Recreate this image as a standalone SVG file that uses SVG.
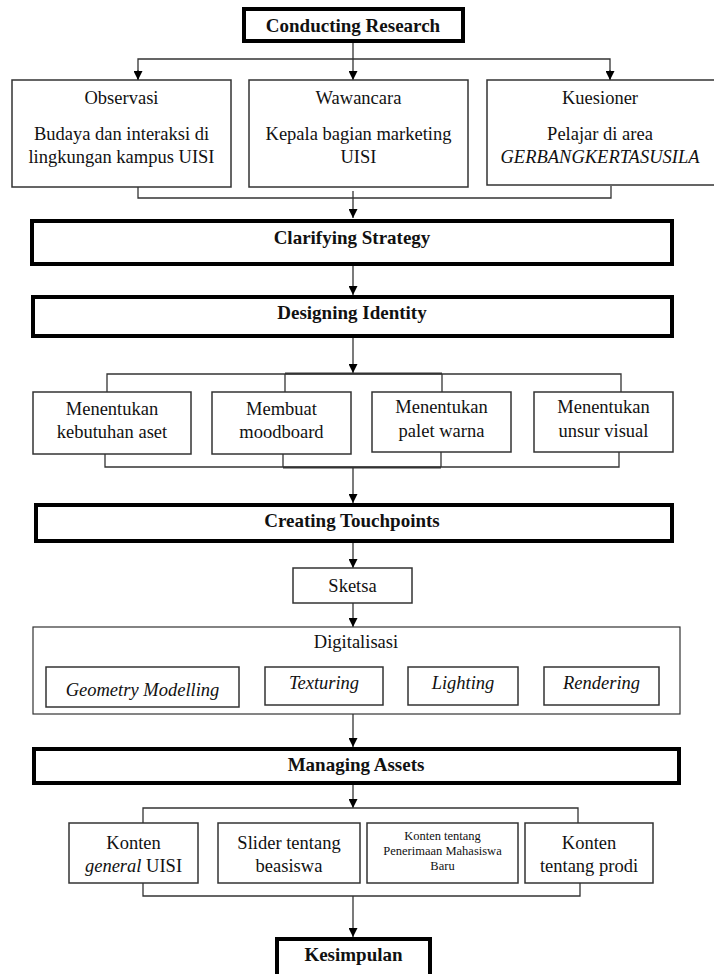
<svg xmlns="http://www.w3.org/2000/svg" width="714" height="974" viewBox="0 0 714 974" font-family="Liberation Serif, Tinos, Times New Roman, DejaVu Serif Condensed, serif">
<style>
text{font-family:'Liberation Serif',Tinos,'Times New Roman','DejaVu Serif Condensed',serif;fill:#111;text-anchor:middle}
.b{font-weight:bold;font-size:19px}
.r{font-size:18.5px}
.s{font-size:12.5px}
.i{font-style:italic}
.thick{fill:#fff;stroke:#000;stroke-width:4}
.box{fill:#fff;stroke:#333;stroke-width:1.5}
.ln{fill:none;stroke:#333;stroke-width:1.3}
.gl{fill:none;stroke:#888;stroke-width:1.8}
.arr{marker-end:url(#ah)}
</style>
<defs>
<marker id="ah" markerUnits="userSpaceOnUse" markerWidth="9" markerHeight="9" refX="9" refY="4.5" orient="auto" viewBox="0 0 9 9">
<path d="M0,0 L9,4.5 L0,9 z" fill="#000"/>
</marker>
</defs>
<rect width="714" height="974" fill="#fff"/>

<g id="connectors">
<line class="ln arr" x1="353" y1="43" x2="353" y2="80"/>
<polyline class="ln" points="138,80 138,59 610,59 610,80"/>
<line class="ln arr" x1="138" y1="70" x2="138" y2="80"/>
<line class="ln arr" x1="610" y1="70" x2="610" y2="80"/>
<polyline class="ln" points="138,187 138,198 611,198 611,186"/>
<line class="ln arr" x1="353" y1="191" x2="353" y2="218"/>
<line class="ln arr" x1="353" y1="266" x2="353" y2="295"/>
<line class="ln arr" x1="353" y1="338" x2="353" y2="373"/>
<polyline class="ln" points="107,392 107,374 621,374 621,392"/>
<line class="ln" x1="285" y1="374" x2="285" y2="392"/>
<line class="ln" x1="442" y1="374" x2="442" y2="392"/>
<line class="ln" x1="285" y1="373.5" x2="442" y2="373.5" style="stroke-width:2.2"/>
<polyline class="ln" points="105,448 105,467 619,467 619,448"/>
<line class="ln" x1="283" y1="448" x2="283" y2="467"/>
<line class="ln" x1="441" y1="448" x2="441" y2="467"/>
<line class="ln" x1="283" y1="467.5" x2="441" y2="467.5" style="stroke-width:2.2"/>
<line class="ln arr" x1="353" y1="467" x2="353" y2="503"/>
<line class="ln arr" x1="353" y1="543" x2="353" y2="568"/>
<line class="ln arr" x1="353" y1="603" x2="353" y2="627"/>
<line class="gl arr" x1="239" y1="683" x2="265" y2="683"/>
<line class="gl arr" x1="383" y1="683" x2="408" y2="683"/>
<line class="gl arr" x1="518" y1="683" x2="544" y2="683"/>
<line class="ln arr" x1="353" y1="714" x2="353" y2="747"/>
<line class="ln arr" x1="353" y1="785" x2="353" y2="808"/>
<polyline class="ln" points="143,823 143,808 578,808 578,823"/>
<polyline class="ln" points="143,883 143,896 580,896 580,883"/>
<line class="ln arr" x1="353" y1="896" x2="353" y2="937"/>
</g>

<g id="conducting-research">
<rect class="thick" x="244" y="9" width="219" height="32"/>
<text class="b" x="353" y="32">Conducting Research</text>
</g>

<g id="observasi">
<rect class="box" x="12" y="80" width="219" height="107"/>
<text class="r" x="121.5" y="104">Observasi</text>
<text class="r" x="121.5" y="140">Budaya dan interaksi di</text>
<text class="r" x="121.5" y="163">lingkungan kampus UISI</text>
</g>

<g id="wawancara">
<rect class="box" x="249" y="80" width="219" height="107"/>
<text class="r" x="358.5" y="104">Wawancara</text>
<text class="r" x="358.5" y="140">Kepala bagian marketing</text>
<text class="r" x="358.5" y="163">UISI</text>
</g>

<g id="kuesioner">
<rect class="box" x="487" y="80" width="230" height="105"/>
<text class="r" x="600" y="104">Kuesioner</text>
<text class="r" x="600" y="140">Pelajar di area</text>
<text class="r i" x="600" y="163">GERBANGKERTASUSILA</text>
</g>

<g id="clarifying-strategy">
<rect class="thick" x="32" y="221" width="640" height="43"/>
<text class="b" x="352" y="244">Clarifying Strategy</text>
</g>

<g id="designing-identity">
<rect class="thick" x="33" y="297" width="639" height="39"/>
<text class="b" x="352" y="319">Designing Identity</text>
</g>

<g id="kebutuhan-aset">
<rect class="box" x="33" y="392" width="158" height="62"/>
<text class="r" x="112" y="415">Menentukan</text>
<text class="r" x="112" y="438">kebutuhan aset</text>
</g>

<g id="moodboard">
<rect class="box" x="212" y="392" width="139" height="62"/>
<text class="r" x="281.5" y="415">Membuat</text>
<text class="r" x="281.5" y="438">moodboard</text>
</g>

<g id="palet-warna">
<rect class="box" x="372" y="392" width="139" height="60"/>
<text class="r" x="441.5" y="413">Menentukan</text>
<text class="r" x="441.5" y="437">palet warna</text>
</g>

<g id="unsur-visual">
<rect class="box" x="534" y="392" width="139" height="60"/>
<text class="r" x="603.5" y="413">Menentukan</text>
<text class="r" x="603.5" y="437">unsur visual</text>
</g>

<g id="creating-touchpoints">
<rect class="thick" x="36" y="505" width="636" height="36"/>
<text class="b" x="352" y="527">Creating Touchpoints</text>
</g>

<g id="sketsa">
<rect class="box" x="293" y="568" width="119" height="35"/>
<text class="r" x="352.5" y="592">Sketsa</text>
</g>

<g id="digitalisasi">
<rect class="box" x="33" y="627" width="647" height="87" style="stroke-width:1.2"/>
<text class="r" x="356" y="648">Digitalisasi</text>
</g>

<g id="geometry-modelling">
<rect class="box" x="46" y="667" width="193" height="40"/>
<text class="r i" x="142.5" y="696">Geometry Modelling</text>
</g>

<g id="texturing">
<rect class="box" x="265" y="667" width="118" height="38"/>
<text class="r i" x="324" y="689">Texturing</text>
</g>

<g id="lighting">
<rect class="box" x="408" y="667" width="110" height="38"/>
<text class="r i" x="463" y="689">Lighting</text>
</g>

<g id="rendering">
<rect class="box" x="544" y="667" width="115" height="38"/>
<text class="r i" x="601.5" y="689">Rendering</text>
</g>

<g id="managing-assets">
<rect class="thick" x="34" y="749" width="645" height="34"/>
<text class="b" x="356" y="771">Managing Assets</text>
</g>

<g id="konten-general">
<rect class="box" x="69" y="823" width="129" height="60"/>
<text class="r" x="133.5" y="849">Konten</text>
<text class="r" x="133.5" y="872"><tspan class="i">general</tspan> UISI</text>
</g>

<g id="slider-beasiswa">
<rect class="box" x="218" y="823" width="142" height="60"/>
<text class="r" x="289" y="849">Slider tentang</text>
<text class="r" x="289" y="872">beasiswa</text>
</g>

<g id="konten-pmb">
<rect class="box" x="367" y="823" width="151" height="60"/>
<text class="s" x="442.5" y="840">Konten tentang</text>
<text class="s" x="442.5" y="855">Penerimaan Mahasiswa</text>
<text class="s" x="442.5" y="870">Baru</text>
</g>

<g id="konten-prodi">
<rect class="box" x="525" y="823" width="128" height="60"/>
<text class="r" x="589" y="849">Konten</text>
<text class="r" x="589" y="872">tentang prodi</text>
</g>

<g id="kesimpulan">
<rect class="thick" x="277" y="939" width="153" height="45"/>
<text class="b" x="353.5" y="961">Kesimpulan</text>
</g>
</svg>
